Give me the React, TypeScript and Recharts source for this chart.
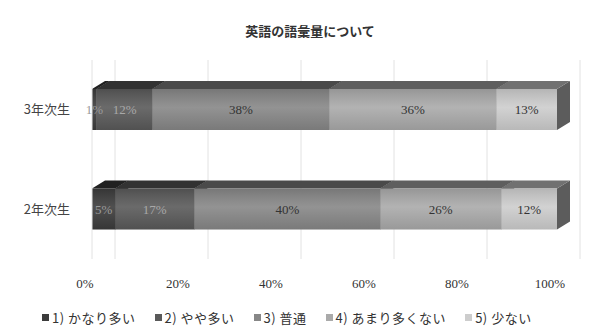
import React from "react";
import { BarChart, Bar, XAxis, YAxis, CartesianGrid, Legend, LabelList } from "recharts";

const categories = ["3年次生", "2年次生"];
const seriesNames = ["1) かなり多い", "2) やや多い", "3) 普通", "4) あまり多くない", "5) 少ない"];
const veryMany = [1, 5];
const ratherMany = [12, 17];
const normal = [38, 40];
const notMany = [36, 26];
const few = [13, 12];
const xTicks = [0, 20, 40, 60, 80, 100];

const colors = ["#3c3c3c", "#5a5a5a", "#878787", "#aaaaaa", "#cdcdcd"];
const labelColors = ["#9a9a9a", "#a8a8a8", "#333333", "#333333", "#333333"];
const keys = ["s1", "s2", "s3", "s4", "s5"];
const seriesValues = [veryMany, ratherMany, normal, notMany, few];

const data = categories.map((name, i) => {
    const row: any = { name };
    keys.forEach((k, j) => {
        row[k] = seriesValues[j][i];
    });
    return row;
});

const serif = "'Liberation Serif', 'DejaVu Serif', 'Noto Sans CJK JP', serif";
const jp = "'Noto Sans CJK JP', serif";

// darken a #rrggbb colour
const shade = (hex: string, f: number) => {
    const n = parseInt(hex.slice(1), 16);
    const r = Math.round(((n >> 16) & 255) * f);
    const g = Math.round(((n >> 8) & 255) * f);
    const b = Math.round((n & 255) * f);
    return `rgb(${r},${g},${b})`;
};

const DX = 13;
const DY = 8;

// front face + top face + right side, like the old 3D office bars
const Bar3D = (props: any) => {
    const { x, y, width, height, fill } = props;
    if (!width || width <= 0) return null;
    const top = `${x},${y} ${x + DX},${y - DY} ${x + width + DX},${y - DY} ${x + width},${y}`;
    const side = `${x + width},${y} ${x + width + DX},${y - DY} ${x + width + DX},${y + height - DY} ${x + width},${y + height}`;
    return (
        <g>
            <polygon points={side} fill={shade(fill, 0.45)} />
            <polygon points={top} fill={shade(fill, 0.55)} />
            <rect x={x} y={y} width={width} height={height} fill={fill} />
            <rect x={x} y={y} width={width} height={height} fill="url(#shine)" />
        </g>
    );
};

const LegendContent = () => (
    <div style={{ display: "flex", fontFamily: jp, fontSize: 13, color: "#333", whiteSpace: "nowrap", letterSpacing: 0.5 }}>
        {seriesNames.map((n, i) => (
            <span key={n} style={{ display: "flex", alignItems: "center", marginRight: 19 }}>
                <span style={{ display: "inline-block", width: 7, height: 7, background: colors[i], marginRight: 3 }} />
                {n}
            </span>
        ))}
    </div>
);

export default function App() {
    return (
        <div style={{ position: "relative", width: 592, height: 327, background: "#fff" }}>
            <style>{"body{margin:0}"}</style>
            <div
                style={{
                    position: "absolute",
                    top: 21,
                    left: 0,
                    width: 620,
                    textAlign: "center",
                    fontFamily: jp,
                    fontSize: 13,
                    fontWeight: 700,
                    color: "#333",
                }}
            >
                英語の語彙量について
            </div>
            <BarChart
                width={592}
                height={327}
                data={data}
                layout="vertical"
                margin={{ top: 60, right: 35, left: 0, bottom: 38 }}
                barCategoryGap={29}
            >
                <defs>
                    <linearGradient id="shine" x1="0" y1="0" x2="0" y2="1">
                        <stop offset="0%" stopColor="#000" stopOpacity={0.12} />
                        <stop offset="45%" stopColor="#fff" stopOpacity={0.1} />
                        <stop offset="100%" stopColor="#000" stopOpacity={0.1} />
                    </linearGradient>
                </defs>
                <CartesianGrid
                    horizontal={false}
                    stroke="#e2e2e2"
                    verticalCoordinatesGenerator={({ offset }: any) =>
                        xTicks.map((t) => offset.left + (offset.width * t) / 100 + 23)
                    }
                />
                <XAxis
                    type="number"
                    domain={[0, 100]}
                    ticks={xTicks}
                    tickFormatter={(v) => `${v}%`}
                    axisLine={false}
                    tickLine={false}
                    tickSize={6}
                    tickMargin={14}
                    height={30}
                    tick={{ fill: "#333", fontSize: 13, fontFamily: serif, dx: -7 }}
                />
                <YAxis
                    type="category"
                    dataKey="name"
                    width={92}
                    axisLine={{ stroke: "#e2e2e2" }}
                    tickLine={false}
                    tickSize={4}
                    tickMargin={18}
                    tick={{ fill: "#444", fontSize: 13, fontFamily: jp }}
                />
                <Legend
                    verticalAlign="middle"
                    align="center"
                    layout="horizontal"
                    content={<LegendContent />}
                    wrapperStyle={{ top: 308, left: 42, width: 560 }}
                />
                {keys.map((k, i) => (
                    <Bar
                        key={k}
                        dataKey={k}
                        name={seriesNames[i]}
                        stackId="a"
                        fill={colors[i]}
                        barSize={41}
                        shape={<Bar3D />}
                        isAnimationActive={false}
                    >
                        <LabelList
                            dataKey={k}
                            position="center"
                            formatter={(v: any) => `${v}%`}
                            style={{ fill: labelColors[i], fontSize: 13, fontFamily: serif }}
                        />
                    </Bar>
                ))}
            </BarChart>
        </div>
    );
}
